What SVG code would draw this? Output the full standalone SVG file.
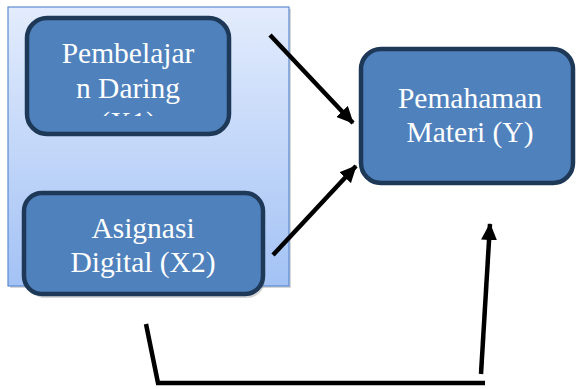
<svg xmlns="http://www.w3.org/2000/svg" width="576" height="389" viewBox="0 0 576 389">
<style>
.node{fill:#4f81bd;stroke:#1e3857;stroke-width:4.5}
.lbl{font-family:'Liberation Serif','Times New Roman',serif;font-size:29.5px;fill:#ffffff;text-anchor:middle}
.conn{stroke:#000;stroke-width:4.5;fill:none}
</style>
<defs>
<linearGradient id="bg" x1="0" y1="0" x2="0" y2="1">
<stop offset="0" stop-color="#e3ecfd"/>
<stop offset="1" stop-color="#a3c2f5"/>
</linearGradient>
<marker id="ah" markerUnits="userSpaceOnUse" markerWidth="18" markerHeight="16" refX="16" refY="8" orient="auto">
<path d="M0,0 L17,8 L0,16 Z" fill="#000"/>
</marker>
<clipPath id="c1"><rect x="0" y="0" width="576" height="116"/></clipPath>
</defs>
<g id="container">
<rect x="10" y="9" width="281" height="279" fill="#9a9a9a" opacity="0.4"/>
<rect x="8" y="7" width="281" height="279" fill="url(#bg)" stroke="#5b8bd0" stroke-width="1.2"/>
</g>
<g id="node-x1">
<rect x="27" y="18" width="202" height="116" rx="20" class="node"/>
<text class="lbl" x="128" y="63">Pembelajar</text>
<text class="lbl" x="128" y="98">n Daring</text>
<text class="lbl" x="128" y="132" clip-path="url(#c1)">(X1)</text>
</g>
<g id="node-x2">
<rect x="27" y="196" width="238" height="102" rx="18" fill="#888" opacity="0.35"/>
<rect x="24" y="193" width="239" height="101" rx="18" class="node"/>
<text class="lbl" x="143" y="238">Asignasi</text>
<text class="lbl" x="143" y="272">Digital (X2)</text>
</g>
<g id="node-y">
<rect x="361" y="49" width="212" height="134" rx="20" class="node"/>
<text class="lbl" x="470" y="108">Pemahaman</text>
<text class="lbl" x="470" y="142">Materi (Y)</text>
</g>
<g id="connectors">
<line class="conn" x1="270" y1="35" x2="353" y2="123" marker-end="url(#ah)"/>
<line class="conn" x1="273" y1="255" x2="356" y2="166" marker-end="url(#ah)"/>
<polyline class="conn" points="146,324 158,383 485,383"/>
<line class="conn" x1="481" y1="374" x2="490" y2="224" marker-end="url(#ah)"/>
</g>
</svg>
